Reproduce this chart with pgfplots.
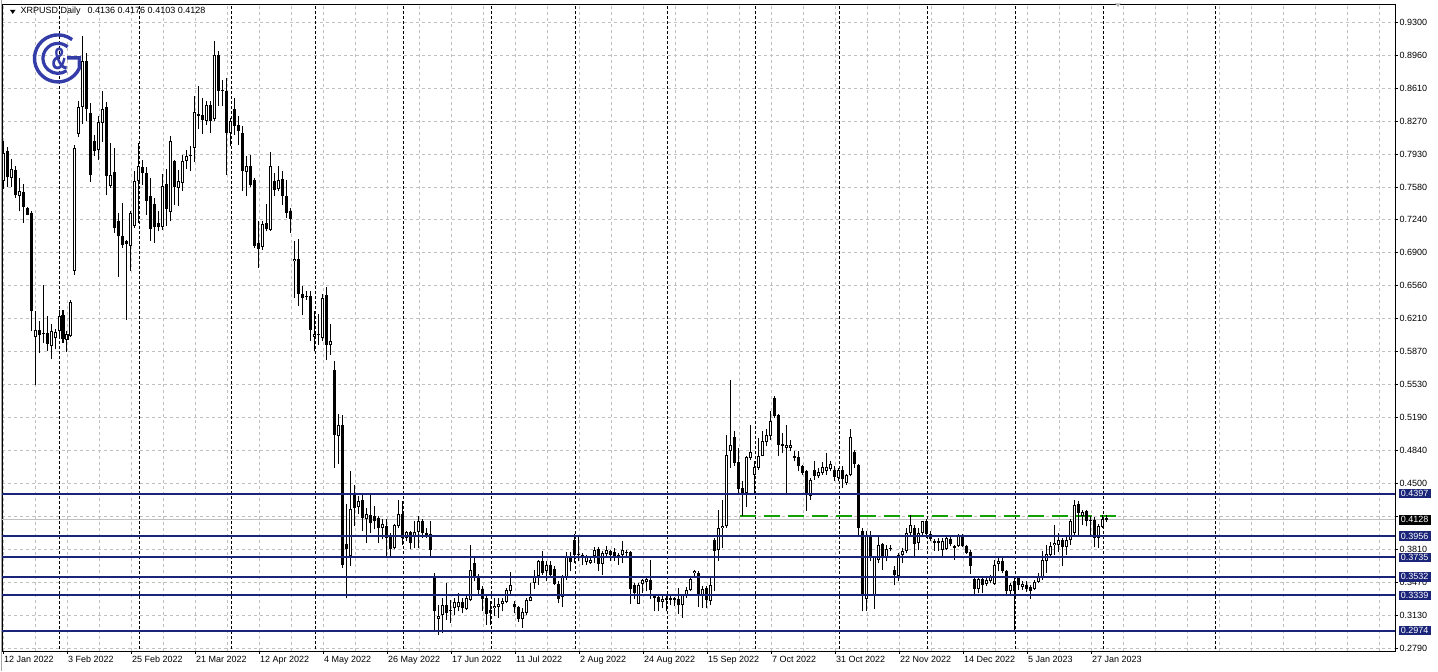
\documentclass[border=0pt]{standalone}
\usepackage{fontspec}
\setmainfont{Liberation Sans}
\usepackage{pgfplots}
\usepackage{pgfplotstable}
\pgfplotsset{compat=1.18}
\definecolor{lvl}{RGB}{26,36,120}
\definecolor{grd}{RGB}{192,192,192}
\definecolor{logo}{RGB}{52,60,168}
\definecolor{grn}{RGB}{20,160,0}

\pgfplotstableread{
i o h l c
0 0.7646 0.8062 0.7563 0.7940
1 0.7958 0.8000 0.7584 0.7691
2 0.7680 0.7875 0.7584 0.7774
3 0.7764 0.7802 0.7472 0.7500
4 0.7497 0.7680 0.7334 0.7542
5 0.7532 0.7615 0.7212 0.7379
6 0.7368 0.7376 0.7290 0.7300
7 0.7316 0.7334 0.6086 0.6301
8 0.6024 0.6294 0.5524 0.6104
9 0.6104 0.6190 0.5860 0.6044
10 0.6070 0.6564 0.5964 0.6060
11 0.6068 0.6242 0.5885 0.5958
12 0.5930 0.6162 0.5795 0.6086
13 0.6016 0.6110 0.5899 0.6076
14 0.6086 0.6312 0.6016 0.6249
15 0.6260 0.6312 0.5964 0.6010
16 0.5999 0.6086 0.5871 0.6058
17 0.6034 0.6416 0.6024 0.6388
18 0.6717 0.8028 0.6676 0.7992
19 0.8138 0.8478 0.8104 0.8416
20 0.8416 0.9154 0.8242 0.8901
21 0.8901 0.8980 0.8270 0.8395
22 0.8356 0.8460 0.7639 0.7716
23 0.8069 0.8132 0.7906 0.7965
24 0.7976 0.8322 0.7872 0.8263
25 0.8252 0.8582 0.8052 0.8402
26 0.8416 0.8471 0.7500 0.7705
27 0.7601 0.8044 0.7576 0.7716
28 0.7740 0.7992 0.7108 0.7160
29 0.7230 0.7316 0.6648 0.7074
30 0.7074 0.7420 0.6952 0.6988
31 0.7022 0.7030 0.6208 0.6994
32 0.6977 0.7334 0.6717 0.7316
33 0.7185 0.7757 0.7160 0.7653
34 0.7653 0.8044 0.7212 0.7802
35 0.7792 0.7872 0.7612 0.7732
36 0.7732 0.7792 0.7300 0.7445
37 0.7497 0.7680 0.7029 0.7154
38 0.7414 0.7472 0.7004 0.7168
39 0.7209 0.7334 0.7126 0.7168
40 0.7168 0.7722 0.7136 0.7601
41 0.7618 0.7774 0.7185 0.7358
42 0.7327 0.8121 0.7230 0.8062
43 0.7854 0.7872 0.7404 0.7584
44 0.7576 0.7768 0.7386 0.7646
45 0.7628 0.7924 0.7549 0.7854
46 0.7861 0.7976 0.7774 0.7913
47 0.7924 0.8010 0.7750 0.7909
48 0.7992 0.8537 0.7844 0.8364
49 0.8346 0.8634 0.8190 0.8329
50 0.8340 0.8512 0.8138 0.8288
51 0.8270 0.8478 0.8236 0.8444
52 0.8436 0.8485 0.8148 0.8270
53 0.8298 0.9109 0.8277 0.8964
54 0.8956 0.8998 0.8426 0.8582
55 0.8600 0.8704 0.8426 0.8589
56 0.8589 0.8720 0.7716 0.8148
57 0.8148 0.8304 0.8010 0.8277
58 0.8402 0.8512 0.8132 0.8225
59 0.8236 0.8322 0.8028 0.8166
60 0.8148 0.8225 0.7542 0.7757
61 0.7743 0.7906 0.7490 0.7802
62 0.7802 0.7924 0.7584 0.7612
63 0.7656 0.7680 0.6952 0.6977
64 0.7001 0.7230 0.6744 0.6942
65 0.6960 0.7230 0.6936 0.7202
66 0.7212 0.7410 0.7126 0.7154
67 0.7144 0.7951 0.7133 0.7802
68 0.7646 0.7732 0.7490 0.7560
69 0.7566 0.7802 0.7542 0.7664
70 0.7670 0.7750 0.7396 0.7490
71 0.7490 0.7664 0.7264 0.7316
72 0.7341 0.7368 0.7108 0.7254
73 0.6814 0.7029 0.6432 0.6838
74 0.6842 0.7050 0.6346 0.6474
75 0.6474 0.6554 0.6252 0.6432
76 0.6455 0.6509 0.6416 0.6445
77 0.6450 0.6502 0.5982 0.6104
78 0.6027 0.6294 0.5878 0.6062
79 0.6055 0.6266 0.5948 0.6044
80 0.6016 0.6474 0.5982 0.6432
81 0.6468 0.6547 0.5792 0.5948
82 0.5940 0.6162 0.5844 0.5989
83 0.5688 0.5774 0.4664 0.5012
84 0.4994 0.5223 0.4703 0.5116
85 0.5116 0.5220 0.3624 0.3660
86 0.3871 0.4287 0.3312 0.3819
87 0.3746 0.4630 0.3642 0.4235
88 0.4404 0.4492 0.4058 0.4248
89 0.4256 0.4370 0.4183 0.4318
90 0.4329 0.4391 0.4006 0.4144
91 0.4131 0.4249 0.3884 0.4183
92 0.4172 0.4404 0.3988 0.4092
93 0.4162 0.4266 0.4027 0.4110
94 0.4141 0.4162 0.3884 0.4040
95 0.4040 0.4131 0.3923 0.4079
96 0.4058 0.4131 0.3746 0.3933
97 0.3954 0.3988 0.3746 0.3819
98 0.3832 0.4079 0.3819 0.4068
99 0.4058 0.4329 0.4040 0.4186
100 0.4183 0.4318 0.3868 0.3936
101 0.3936 0.4010 0.3902 0.3996
102 0.3996 0.4010 0.3819 0.3884
103 0.3954 0.4110 0.3832 0.3999
104 0.3999 0.4162 0.3832 0.4117
105 0.4117 0.4131 0.3936 0.3988
106 0.3988 0.4040 0.3936 0.3972
107 0.3978 0.4110 0.3746 0.3816
108 0.3538 0.3572 0.2984 0.3174
109 0.3094 0.3244 0.2932 0.3129
110 0.3140 0.3313 0.2948 0.3244
111 0.3244 0.3468 0.3088 0.3156
112 0.3174 0.3296 0.3052 0.3192
113 0.3208 0.3313 0.3140 0.3268
114 0.3216 0.3364 0.3174 0.3268
115 0.3268 0.3313 0.3156 0.3208
116 0.3202 0.3330 0.3192 0.3313
117 0.3296 0.3868 0.3278 0.3608
118 0.3676 0.3746 0.3486 0.3520
119 0.3538 0.3559 0.3351 0.3400
120 0.3410 0.3434 0.3174 0.3306
121 0.3313 0.3348 0.3036 0.3150
122 0.3185 0.3278 0.3036 0.3156
123 0.3208 0.3313 0.3122 0.3233
124 0.3216 0.3313 0.3104 0.3250
125 0.3250 0.3310 0.3174 0.3278
126 0.3271 0.3416 0.3260 0.3400
127 0.3382 0.3583 0.3348 0.3444
128 0.3254 0.3278 0.3156 0.3216
129 0.3216 0.3226 0.3063 0.3098
130 0.3098 0.3208 0.2999 0.3164
131 0.3156 0.3313 0.3140 0.3288
132 0.3285 0.3468 0.3278 0.3320
133 0.3468 0.3608 0.3410 0.3545
134 0.3538 0.3712 0.3452 0.3701
135 0.3701 0.3805 0.3555 0.3572
136 0.3590 0.3694 0.3486 0.3660
137 0.3652 0.3694 0.3520 0.3548
138 0.3618 0.3642 0.3452 0.3458
139 0.3458 0.3486 0.3260 0.3306
140 0.3320 0.3548 0.3216 0.3528
141 0.3528 0.3791 0.3504 0.3746
142 0.3736 0.3791 0.3590 0.3684
143 0.3920 0.3978 0.3676 0.3764
144 0.3757 0.3944 0.3694 0.3770
145 0.3757 0.3777 0.3660 0.3728
146 0.3687 0.3757 0.3660 0.3736
147 0.3676 0.3746 0.3666 0.3704
148 0.3746 0.3840 0.3676 0.3816
149 0.3822 0.3840 0.3598 0.3670
150 0.3670 0.3798 0.3555 0.3780
151 0.3770 0.3850 0.3746 0.3808
152 0.3798 0.3816 0.3694 0.3757
153 0.3791 0.3832 0.3701 0.3736
154 0.3728 0.3780 0.3660 0.3757
155 0.3757 0.3909 0.3676 0.3816
156 0.3788 0.3808 0.3736 0.3782
157 0.3788 0.3798 0.3250 0.3410
158 0.3452 0.3468 0.3306 0.3365
159 0.3254 0.3468 0.3250 0.3444
160 0.3462 0.3514 0.3365 0.3496
161 0.3479 0.3520 0.3382 0.3507
162 0.3504 0.3704 0.3306 0.3392
163 0.3341 0.3348 0.3174 0.3313
164 0.3323 0.3348 0.3174 0.3271
165 0.3271 0.3330 0.3208 0.3306
166 0.3313 0.3351 0.3174 0.3296
167 0.3296 0.3330 0.3244 0.3313
168 0.3313 0.3320 0.3226 0.3296
169 0.3302 0.3416 0.3146 0.3236
170 0.3236 0.3351 0.3104 0.3341
171 0.3341 0.3424 0.3313 0.3400
172 0.3400 0.3538 0.3382 0.3510
173 0.3572 0.3608 0.3538 0.3597
174 0.3572 0.3597 0.3216 0.3348
175 0.3348 0.3434 0.3208 0.3410
176 0.3416 0.3434 0.3208 0.3296
177 0.3285 0.3520 0.3244 0.3444
178 0.3920 0.3936 0.3382 0.3805
179 0.3816 0.4232 0.3701 0.4040
180 0.4040 0.4336 0.3832 0.4065
181 0.4058 0.5012 0.4040 0.4804
182 0.4838 0.5584 0.4664 0.4900
183 0.4984 0.5046 0.4682 0.4717
184 0.4727 0.4873 0.4388 0.4450
185 0.4456 0.4526 0.4169 0.4404
186 0.4404 0.4786 0.4256 0.4776
187 0.4768 0.5116 0.4752 0.4828
188 0.4596 0.4734 0.4394 0.4672
189 0.4665 0.4976 0.4648 0.4793
190 0.4793 0.5053 0.4786 0.4942
191 0.4935 0.5074 0.4890 0.5004
192 0.4994 0.5254 0.4960 0.5150
193 0.5392 0.5410 0.5184 0.5209
194 0.5220 0.5226 0.4786 0.4908
195 0.4914 0.5029 0.4820 0.4897
196 0.4872 0.5116 0.4404 0.4908
197 0.4872 0.4960 0.4838 0.4900
198 0.4786 0.4838 0.4734 0.4768
199 0.4776 0.4838 0.4630 0.4682
200 0.4682 0.4692 0.4595 0.4612
201 0.4630 0.4648 0.4221 0.4380
202 0.4370 0.4560 0.4336 0.4544
203 0.4648 0.4734 0.4544 0.4585
204 0.4578 0.4664 0.4560 0.4620
205 0.4612 0.4727 0.4595 0.4672
206 0.4637 0.4820 0.4595 0.4672
207 0.4658 0.4741 0.4630 0.4706
208 0.4648 0.4682 0.4534 0.4568
209 0.4560 0.4664 0.4526 0.4648
210 0.4648 0.4682 0.4456 0.4554
211 0.4508 0.4602 0.4492 0.4589
212 0.4589 0.5074 0.4578 0.4984
213 0.4831 0.4856 0.4664 0.4706
214 0.4700 0.4706 0.3972 0.4040
215 0.4006 0.4040 0.3174 0.3340
216 0.3306 0.4006 0.3174 0.3964
217 0.3972 0.4006 0.3694 0.3746
218 0.3340 0.3746 0.3202 0.3736
219 0.3712 0.3972 0.3676 0.3868
220 0.3878 0.3884 0.3608 0.3736
221 0.3736 0.3868 0.3694 0.3826
222 0.3824 0.3868 0.3798 0.3819
223 0.3608 0.3642 0.3444 0.3548
224 0.3538 0.3780 0.3494 0.3764
225 0.3764 0.3832 0.3676 0.3805
226 0.3798 0.4040 0.3780 0.3988
227 0.3988 0.4180 0.3972 0.4076
228 0.4040 0.4076 0.3728 0.3878
229 0.3884 0.4040 0.3816 0.3988
230 0.3988 0.4117 0.3954 0.4110
231 0.4117 0.4138 0.3936 0.3978
232 0.3978 0.4006 0.3902 0.3930
233 0.3902 0.3930 0.3805 0.3884
234 0.3909 0.3936 0.3805 0.3881
235 0.3816 0.3936 0.3736 0.3902
236 0.3826 0.3954 0.3816 0.3936
237 0.3930 0.3954 0.3850 0.3874
238 0.3850 0.3868 0.3712 0.3832
239 0.3850 0.3978 0.3840 0.3964
240 0.3964 0.3978 0.3840 0.3850
241 0.3850 0.3868 0.3770 0.3780
242 0.3791 0.3816 0.3562 0.3642
243 0.3514 0.3528 0.3330 0.3410
244 0.3410 0.3528 0.3364 0.3514
245 0.3514 0.3528 0.3364 0.3452
246 0.3458 0.3520 0.3434 0.3496
247 0.3486 0.3555 0.3468 0.3538
248 0.3462 0.3712 0.3452 0.3660
249 0.3666 0.3736 0.3590 0.3694
250 0.3701 0.3728 0.3572 0.3598
251 0.3598 0.3608 0.3330 0.3382
252 0.3382 0.3468 0.3348 0.3444
253 0.3486 0.3538 0.2974 0.3389
254 0.3528 0.3538 0.3400 0.3444
255 0.3424 0.3486 0.3400 0.3458
256 0.3452 0.3486 0.3375 0.3410
257 0.3424 0.3444 0.3306 0.3389
258 0.3410 0.3504 0.3400 0.3479
259 0.3479 0.3572 0.3468 0.3528
260 0.3520 0.3798 0.3504 0.3712
261 0.3701 0.3868 0.3572 0.3770
262 0.3764 0.3895 0.3736 0.3850
263 0.3860 0.4076 0.3764 0.3884
264 0.3868 0.3988 0.3791 0.3920
265 0.3920 0.3936 0.3642 0.3840
266 0.3840 0.3972 0.3757 0.3920
267 0.3920 0.4138 0.3860 0.4110
268 0.3988 0.4336 0.3972 0.4284
269 0.4290 0.4318 0.3972 0.4197
270 0.4169 0.4232 0.4076 0.4204
271 0.4214 0.4232 0.4058 0.4117
272 0.4128 0.4162 0.3972 0.4117
273 0.4128 0.4152 0.3840 0.3936
274 0.3936 0.4082 0.3832 0.4058
275 0.4051 0.4180 0.4040 0.4138
276 0.4136 0.4176 0.4103 0.4128
}\candles

\begin{document}
\begin{tikzpicture}[x=1pt,y=1pt,font=\fontsize{9}{10}\selectfont]
\fill[white] (0,0) rectangle (1438,671);
\draw[gray!70, line width=0.8pt] (1.5,0) -- (1.5,671);
\begin{axis}[
  at={(5,21)}, anchor=south west, scale only axis,
  width=1393pt, height=646.5pt,
  xmin=-0.25, xmax=348, ymin=0.27588, ymax=0.94820,
  axis line style={black, line width=0.8pt},
  tick align=outside, xtick pos=bottom, ytick pos=right, yticklabel pos=right,
  major tick length=3pt, minor tick length=0pt,
  tick style={black, line width=0.8pt},
  xtick={0,16,...,272},
  xticklabels={12 Jan 2022,3 Feb 2022,25 Feb 2022,21 Mar 2022,12 Apr 2022,4 May 2022,26 May 2022,17 Jun 2022,11 Jul 2022,2 Aug 2022,24 Aug 2022,15 Sep 2022,7 Oct 2022,31 Oct 2022,22 Nov 2022,14 Dec 2022,5 Jan 2023,27 Jan 2023},
  minor xtick={8,24,40,56,72,88,104,120,136,152,168,184,200,216,232,248,264,280,288,296,304,312,320,328,336,344},
  ytick={0.93,0.89574,0.86147,0.82721,0.79295,0.75868,0.72442,0.69016,0.65589,0.62163,0.58737,0.55311,0.51884,0.48458,0.45032,0.41605,0.38179,0.34753,0.31326,0.279},
  yticklabels={0.9300,0.8960,0.8610,0.8270,0.7930,0.7580,0.7240,0.6900,0.6560,0.6210,0.5870,0.5530,0.5190,0.4840,0.4500,{},0.3810,0.3470,0.3130,0.2790},
  grid=both,
  major grid style={grd, dash pattern=on 3pt off 3pt, line width=0.8pt},
  minor grid style={grd, dash pattern=on 3pt off 3pt, line width=0.8pt},
  xticklabel style={anchor=north west, inner sep=0pt, xshift=1pt, yshift=-2pt},
  yticklabel style={anchor=west, inner sep=0pt, xshift=1.5pt},
  tick label style={font=\fontsize{9}{10}\selectfont},
]
% month separators
\pgfplotsinvokeforeach{14,34,57,78,100,122,143,166,188,209,231,253,275,303}{
  \addplot[black, line width=0.8pt, dash pattern=on 3pt off 2pt, forget plot] coordinates {(#1,0.2) (#1,1)};
}
% current price line
\addplot[grd, line width=0.8pt, forget plot] coordinates {(-1,0.4128) (349,0.4128)};
% green dashed line
\addplot[grn, line width=1.2pt, dash pattern=on 16pt off 8pt, forget plot] coordinates {(184.2,0.4165) (278.3,0.4165)};
% wicks
\addplot[only marks, mark size=0pt, mark options={draw=none,fill=none}, forget plot,
  error bars/.cd, y dir=plus, y explicit, error mark=none,
  error bar style={draw=black, line width=1pt, line cap=butt}]
  table[x=i, y=l, y error expr=\thisrow{h}-\thisrow{l}] {\candles};
% bodies
\addplot[only marks, mark size=0pt, mark options={draw=none,fill=none}, forget plot,
  error bars/.cd, y dir=plus, y explicit, error mark=none,
  error bar style={draw=black, line width=3pt, line cap=butt}]
  table[x=i, y expr={min(\thisrow{o},\thisrow{c})}, y error expr={max(abs(\thisrow{c}-\thisrow{o}),0.0011)}] {\candles};
% hollow interiors of rising candles
\addplot[only marks, mark size=0pt, mark options={draw=none,fill=none}, forget plot,
  error bars/.cd, y dir=plus, y explicit, error mark=none,
  error bar style={draw=white, line width=1pt, line cap=butt}]
  table[x=i, y expr={min(\thisrow{o},\thisrow{c})+0.00104}, y error expr={max(\thisrow{c}-\thisrow{o}-0.00208,0)}] {\candles};
% level lines
\pgfplotsinvokeforeach{0.4397,0.3956,0.3735,0.3532,0.3339,0.2974}{
  \addplot[lvl, line width=2pt, forget plot] coordinates {(-1,#1) (349,#1)};
}
\coordinate (L1) at (axis cs:348,0.4397);
\coordinate (L2) at (axis cs:348,0.3956);
\coordinate (L3) at (axis cs:348,0.3735);
\coordinate (L4) at (axis cs:348,0.3532);
\coordinate (L5) at (axis cs:348,0.3339);
\coordinate (L6) at (axis cs:348,0.2974);
\coordinate (LP) at (axis cs:348,0.4128);
\end{axis}
% price labels
\tikzset{pl/.style={fill=lvl, text=white, inner sep=0pt, minimum width=32pt, minimum height=9.5pt, anchor=west, font=\fontsize{9}{10}\selectfont}}
\node[pl] at ([xshift=3.5pt]L1) {0.4397};
\node[pl] at ([xshift=3.5pt]L2) {0.3956};
\node[pl] at ([xshift=3.5pt]L3) {0.3735};
\node[pl] at ([xshift=3.5pt]L4) {0.3532};
\node[pl] at ([xshift=3.5pt]L5) {0.3339};
\node[pl] at ([xshift=3.5pt]L6) {0.2974};
\node[pl, fill=black, minimum height=10pt] at ([xshift=3.5pt]LP) {0.4128};
% title
\fill[black] (10,661.5) -- (15.5,661.5) -- (12.75,657.5) -- cycle;
\node[anchor=west, inner sep=0pt] at (20.5,660) {XRPUSD,Daily\hspace{7pt}0.4136 0.4176 0.4103 0.4128};
\fill[gray!60] (1115,668) -- (1121,668) -- (1118,664.5) -- cycle;
% logo
\draw[logo, line width=3.4pt] ([shift={(53:23.5)}]58,613) arc[start angle=53, end angle=335, radius=23.5] -- (79.5,613.5) -- (67,613.5);
\draw[logo, line width=3.2pt] ([shift={(50:15)}]58,613) arc[start angle=50, end angle=305, radius=15];
\node[logo, font=\fontsize{31}{31}\selectfont\bfseries, xscale=0.72, inner sep=0pt] at (59.5,612.5) {\&};
\end{tikzpicture}
\end{document}
